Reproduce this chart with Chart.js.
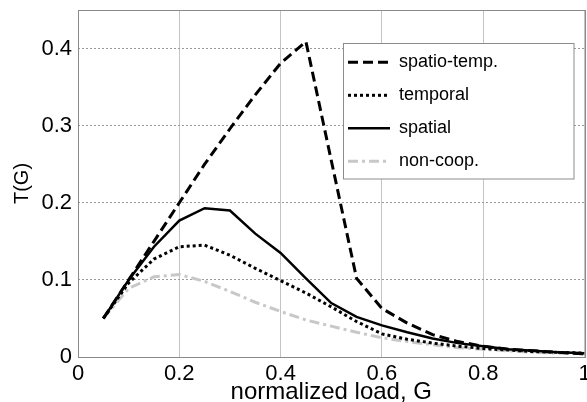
<!DOCTYPE html>
<html>
<head>
<meta charset="utf-8">
<script src="https://cdn.jsdelivr.net/npm/chart.js@4/dist/chart.umd.min.js"></script>
<style>
  html, body { margin: 0; padding: 0; background: #fff; overflow: hidden; }
  #wrap { width: 587px; height: 402px; position: relative; }
</style>
</head>
<body>
<div id="wrap"><canvas id="c" width="587" height="402"></canvas></div>
<script>
// ---- data ----
const loads      = [0.05,0.10,0.15,0.20,0.25,0.30,0.35,0.40,0.45,0.50,0.55,0.60,0.65,0.70,0.75,0.80,0.85,0.90,0.95,1.00];
const spatioTemp = [0.050,0.100,0.150,0.200,0.250,0.296,0.340,0.381,0.409,0.255,0.102,0.063,0.044,0.029,0.020,0.014,0.010,0.008,0.006,0.004];
const temporal   = [0.050,0.096,0.127,0.143,0.145,0.132,0.115,0.099,0.083,0.065,0.046,0.030,0.023,0.018,0.014,0.011,0.009,0.007,0.006,0.005];
const spatial    = [0.050,0.100,0.143,0.177,0.193,0.190,0.160,0.135,0.102,0.070,0.052,0.041,0.032,0.024,0.018,0.014,0.010,0.008,0.006,0.005];
const nonCoop    = [0.050,0.089,0.104,0.107,0.098,0.085,0.071,0.059,0.048,0.040,0.032,0.025,0.020,0.016,0.012,0.010,0.008,0.006,0.005,0.004];
const seriesNames = ['spatio-temp.', 'temporal', 'spatial', 'non-coop.'];
const xTicks = [0, 0.2, 0.4, 0.6, 0.8, 1];
const yTicks = [0, 0.1, 0.2, 0.3, 0.4];
const xTitle = 'normalized load, G';
const yTitle = 'T(G)';

const pts = (ys) => loads.map((x, i) => ({x: x, y: ys[i]}));

const FONT = "'Liberation Sans', Arial, Helvetica, sans-serif";

const layoutPlugin = {
  id: 'layoutPlugin',
  afterLayout(chart) {
    const lg = chart.legend;
    if (lg) {
      lg.left = 333; lg.top = 38.3; lg.right = 587; lg.bottom = 402;
      if (!lg._framed) {
        const orig = lg.draw;
        lg.draw = function(area) {
          const ctx = chart.ctx;
          ctx.save();
          ctx.fillStyle = '#ffffff';
          ctx.fillRect(343.5, 43.5, 230.5, 135.5);
          ctx.strokeStyle = '#8c8c8c';
          ctx.lineWidth = 1;
          ctx.strokeRect(343.5, 43.5, 230.5, 135.5);
          ctx.restore();
          orig.call(this, area);
        };
        lg._framed = true;
      }
    }
  },
  beforeDatasetsDraw(chart) {
    const a = chart.chartArea;
    const ctx = chart.ctx;
    ctx.save();
    ctx.strokeStyle = '#8a8a8a';
    ctx.lineWidth = 1;
    ctx.strokeRect(Math.round(a.left) + 0.5, Math.round(a.top) + 0.5,
                   Math.round(a.right - a.left), Math.round(a.bottom - a.top));
    ctx.restore();
  }
};

new Chart(document.getElementById('c'), {
  type: 'line',
  data: {
    datasets: [
      { label: seriesNames[0], data: pts(spatioTemp), borderColor: '#000000', backgroundColor: '#000000',
        borderWidth: 3, borderDash: [10, 5] },
      { label: seriesNames[1], data: pts(temporal), borderColor: '#000000', backgroundColor: '#000000',
        borderWidth: 3, borderDash: [3, 3] },
      { label: seriesNames[2], data: pts(spatial), borderColor: '#000000', backgroundColor: '#000000',
        borderWidth: 2.5, borderDash: [] },
      { label: seriesNames[3], data: pts(nonCoop), borderColor: '#c8c8c8', backgroundColor: '#c8c8c8',
        borderWidth: 3, borderDash: [10, 4, 3, 4] }
    ]
  },
  options: {
    responsive: false,
    animation: false,
    devicePixelRatio: 1,
    layout: { padding: { top: 10, right: 2.5, bottom: 0, left: 0 } },
    elements: {
      point: { radius: 0, hoverRadius: 0 },
      line: { tension: 0, fill: false, borderCapStyle: 'butt' }
    },
    plugins: {
      tooltip: { enabled: false },
      legend: {
        display: true,
        position: 'chartArea',
        align: 'start',
        labels: {
          usePointStyle: true,
          pointStyle: 'line',
          pointStyleWidth: 42,
          padding: 15,
          color: '#000000',
          font: { family: FONT, size: 18 },
          generateLabels(chart) {
            const items = Chart.defaults.plugins.legend.labels.generateLabels(chart);
            items.forEach((it) => {
              const ds = chart.data.datasets[it.datasetIndex];
              it.lineDash = ds.borderDash || [];
              it.lineWidth = ds.borderWidth;
              it.strokeStyle = ds.borderColor;
              it.fillStyle = ds.borderColor;
              it.pointStyle = 'line';
              it.fontColor = '#000000';
            });
            return items;
          }
        }
      }
    },
    scales: {
      x: {
        type: 'linear',
        min: 0, max: 1,
        afterBuildTicks(scale) { scale.ticks = xTicks.map(v => ({value: v})); },
        afterFit(scale) { scale.height = 45; scale.paddingLeft = 0; scale.paddingRight = 0; },
        grid: { color: '#c4c4c4', lineWidth: 1, drawTicks: false },
        border: { display: false },
        ticks: {
          padding: 4,
          color: '#000000',
          maxRotation: 0,
          autoSkip: false,
          font: { family: FONT, size: 22 },
          callback: (v) => String(v)
        },
        title: {
          display: true,
          text: xTitle,
          color: '#000000',
          font: { family: FONT, size: 24, lineHeight: 1 },
          padding: { top: 0, bottom: -2 }
        }
      },
      y: {
        type: 'linear',
        min: 0, max: 0.45,
        afterBuildTicks(scale) { scale.ticks = yTicks.map(v => ({value: v})); },
        afterFit(scale) { scale.width = 78; scale.paddingTop = 0; scale.paddingBottom = 0; },
        grid: { color: '#9a9a9a', lineWidth: 1, drawTicks: false },
        border: { display: false, dash: [2, 2] },
        ticks: {
          padding: 6,
          color: '#000000',
          autoSkip: false,
          font: { family: FONT, size: 22 },
          callback: (v) => String(v)
        },
        title: {
          display: true,
          text: yTitle,
          color: '#000000',
          font: { family: FONT, size: 20 },
          padding: { top: 10, bottom: 0 }
        }
      }
    }
  },
  plugins: [layoutPlugin]
});
</script>
</body>
</html>
